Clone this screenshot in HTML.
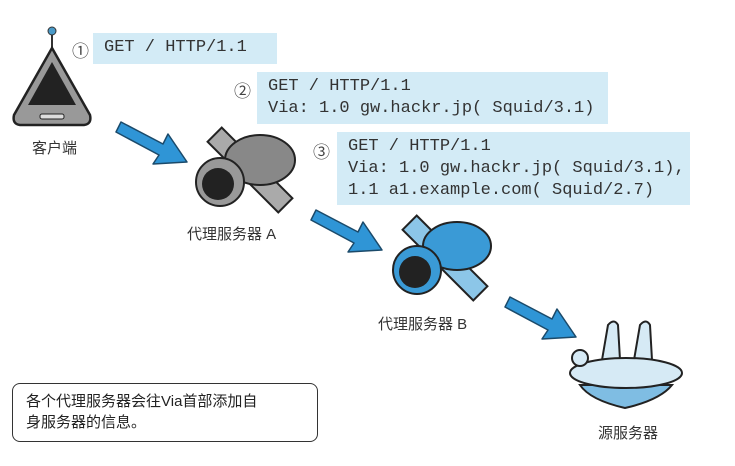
<!DOCTYPE html>
<html><head><meta charset="utf-8"><style>
body{margin:0;width:735px;height:466px;background:#fff;overflow:hidden;position:relative;font-family:"Liberation Sans","Noto Sans CJK SC",sans-serif}
.b{position:absolute;background:#d3ebf6;font-family:"Liberation Mono",monospace;font-size:17px;line-height:22px;color:#333;padding:4px 0 0 11px;box-sizing:border-box;white-space:pre}
.n{position:absolute;font-size:17px;color:#444}
.l{position:absolute;font-size:15px;color:#333;white-space:nowrap}
</style></head><body>
<div class="b" style="left:93px;top:33px;width:184px;height:31px">GET / HTTP/1.1</div>
<div class="b" style="left:257px;top:72px;width:351px;height:52px">GET / HTTP/1.1
Via: 1.0 gw.hackr.jp( Squid/3.1)</div>
<div class="b" style="left:337px;top:132px;width:353px;height:73px">GET / HTTP/1.1
Via: 1.0 gw.hackr.jp( Squid/3.1),
1.1 a1.example.com( Squid/2.7)</div>
<div class="n" style="left:72px;top:37px">①</div>
<div class="n" style="left:234px;top:77px">②</div>
<div class="n" style="left:313px;top:138px">③</div>
<svg width="735" height="466" style="position:absolute;left:0;top:0">
<defs><g id="ar"><path d="M0,10 L42,32 L47,22 L66,50 L32,52 L38,43 L-5,20 Z" fill="#2f95d6" stroke="#1b4a6a" stroke-width="1.5" stroke-linejoin="round"/></g></defs>
<use href="#ar" x="121" y="112"/><use href="#ar" x="316" y="200"/><use href="#ar" x="510" y="287"/>
<!-- client -->
<line x1="52" y1="33" x2="52" y2="50" stroke="#333" stroke-width="2"/><circle cx="52" cy="31" r="4" fill="#4a9ac8" stroke="#333"/>
<path d="M52,48 L90,115 Q92,124 84,125 L20,125 Q12,124 14,115 Z" fill="#999" stroke="#222" stroke-width="2.5"/>
<path d="M52,62 L76,105 L28,105 Z" fill="#222"/>
<rect x="40" y="114" width="24" height="5" rx="2" fill="#ddd" stroke="#222"/>
<!-- proxy A -->
<g transform="translate(250,170)">
<rect x="-50" y="-10" width="100" height="20" fill="#aaa" stroke="#222" stroke-width="2" transform="rotate(45)"/>
<ellipse cx="10" cy="-10" rx="35" ry="25" fill="#888" stroke="#222" stroke-width="2"/>
<ellipse cx="-30" cy="12" rx="24" ry="24" fill="#999" stroke="#222" stroke-width="2"/>
<circle cx="-32" cy="14" r="16" fill="#222"/>
</g>
<!-- proxy B -->
<g transform="translate(445,258)">
<rect x="-50" y="-10" width="100" height="20" fill="#8cc6e8" stroke="#222" stroke-width="2" transform="rotate(45)"/>
<ellipse cx="12" cy="-12" rx="34" ry="24" fill="#3a9ad6" stroke="#222" stroke-width="2"/>
<ellipse cx="-28" cy="12" rx="24" ry="24" fill="#3a9ad6" stroke="#222" stroke-width="2"/>
<circle cx="-30" cy="14" r="16" fill="#222"/>
</g>
<!-- origin -->
<path d="M602,360 L608,325 Q614,318 618,325 L620,360 Z M634,360 L640,325 Q646,318 650,325 L652,360 Z" fill="#d6eaf5" stroke="#222" stroke-width="2"/>
<path d="M580,385 Q590,400 625,408 Q660,400 672,385 Z" fill="#7fbde3" stroke="#222" stroke-width="2"/>
<ellipse cx="626" cy="373" rx="56" ry="15" fill="#d6eaf5" stroke="#222" stroke-width="2"/>
<circle cx="580" cy="358" r="8" fill="#d6eaf5" stroke="#222" stroke-width="2"/>
</svg>
<div class="l" style="left:32px;top:137px">客户端</div>
<div class="l" style="left:187px;top:223px">代理服务器 A</div>
<div class="l" style="left:378px;top:313px">代理服务器 B</div>
<div class="l" style="left:598px;top:422px">源服务器</div>
<div style="position:absolute;left:12px;top:383px;width:306px;height:59px;border:1.5px solid #333;border-radius:8px;box-sizing:border-box;font-size:15px;line-height:21px;color:#222;padding:7px 0 0 13px">各个代理服务器会往Via首部添加自<br>身服务器的信息。</div>
</body></html>
